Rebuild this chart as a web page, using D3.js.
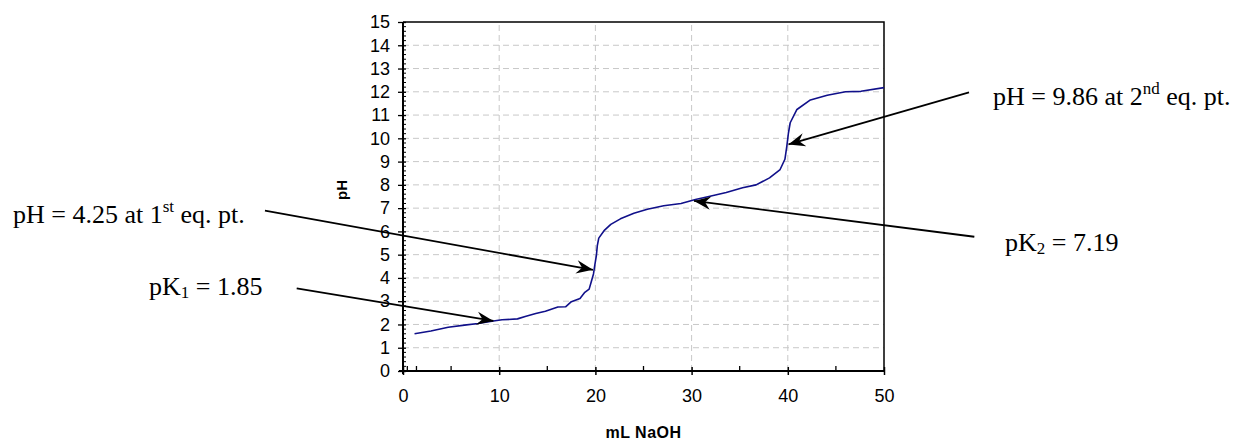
<!DOCTYPE html>
<html><head><meta charset="utf-8">
<script src="https://cdn.jsdelivr.net/npm/d3@7/dist/d3.min.js"></script>
<style>html,body{margin:0;padding:0;background:#fff;}svg{display:block;}</style>
</head><body>
<script>
// ---- data ----
const mlNaOH = [1.2, 2.9, 4.7, 6.4, 7.8, 9.4, 10.3, 11.9, 12.7, 13.8, 14.8, 16.1, 16.9, 17.5, 18.4, 18.9, 19.35, 19.6, 19.8, 19.93, 20.1, 20.2, 20.35, 20.9, 21.6, 22.6, 24.0, 25.4, 27.1, 28.9, 30.4, 31.8, 33.6, 35.3, 36.7, 38.1, 39.2, 39.7, 39.9, 40.07, 40.25, 40.95, 42.35, 44.1, 46.0, 47.6, 50.0];
const pHValues = [1.6, 1.72, 1.88, 1.97, 2.04, 2.15, 2.2, 2.24, 2.34, 2.47, 2.57, 2.75, 2.76, 2.98, 3.12, 3.38, 3.52, 3.88, 4.17, 4.53, 4.96, 5.39, 5.71, 6.03, 6.3, 6.54, 6.78, 6.95, 7.1, 7.2, 7.37, 7.5, 7.67, 7.88, 8.0, 8.3, 8.66, 9.1, 9.67, 10.24, 10.67, 11.24, 11.65, 11.85, 12.0, 12.02, 12.18];
const xTicks = [0, 10, 20, 30, 40, 50];
const xMinorTicks = [5, 15, 25, 35, 45];
const xStrayTicks = [0.45, 1.4];
const yTicks = d3.range(0, 16);
const xGrid = [10, 20, 30, 40];
const yGrid = d3.range(1, 15);
const xTitle = "mL NaOH";
const yTitle = "pH";
// annotation text pieces: [text, kind]
const annTexts = [
  [["pH = 4.25 at 1", ""], ["st", "sup"], [" eq. pt.", ""]],
  [["pK", ""], ["1", "sub"], [" = 1.85", ""]],
  [["pH = 9.86 at 2", ""], ["nd", "sup"], [" eq. pt.", ""]],
  [["pK", ""], ["2", "sub"], [" = 7.19", ""]]
];
// arrow tail and tip in data units (mL, pH)
const annFrom = [[-14.35, 6.89], [-11.05, 3.55], [58.84, 11.98], [59.39, 5.77]];
const annTo = [[19.75, 4.35], [9.4, 2.15], [40.07, 9.74], [30.25, 7.31]];

// ---- layout ----
const W = 1240, H = 441;
const annPos = [[13, 223], [149, 295], [993, 105], [1005, 251]];
const svg = d3.select("body").append("svg").attr("width", W).attr("height", H);
const x = d3.scaleLinear().domain([0, 50]).range([403, 884]);
const y = d3.scaleLinear().domain([0, 15]).range([371, 22]);

// gridlines
svg.append("g").selectAll("line").data(yGrid).join("line")
  .attr("x1", x(0)).attr("x2", x(50)).attr("y1", d => y(d)).attr("y2", d => y(d))
  .attr("stroke", "#c8c8c8").attr("stroke-width", 1).attr("stroke-dasharray", "6,4");
svg.append("g").selectAll("line").data(xGrid).join("line")
  .attr("y1", y(0)).attr("y2", y(15)).attr("x1", d => x(d)).attr("x2", d => x(d))
  .attr("stroke", "#c8c8c8").attr("stroke-width", 1).attr("stroke-dasharray", "6,4");

// frame top/right
svg.append("path").attr("d", `M${x(0)},${y(15)}H${x(50)}V${y(0)}`)
  .attr("fill", "none").attr("stroke", "#000").attr("stroke-width", 1.5);

// axes
const xAxis = d3.axisBottom(x).tickValues(xTicks).tickSize(4).tickPadding(14).tickFormat(d3.format("d"));
const gx = svg.append("g").attr("transform", `translate(0,${y(0)})`).call(xAxis);
gx.select(".domain").attr("stroke-width", 2).attr("d", `M${x(0)-4},0H${x(50)}`);
gx.selectAll(".tick line").attr("y1", -4).attr("y2", 4).attr("stroke-width", 1.5);
gx.selectAll("text").attr("font-family", "Liberation Sans, Arial, sans-serif").attr("font-size", 18).attr("fill", "#000");
svg.append("g").selectAll("line").data(xMinorTicks.concat(xStrayTicks)).join("line")
  .attr("x1", d => x(d)).attr("x2", d => x(d)).attr("y1", y(0)).attr("y2", y(0) - 5)
  .attr("stroke", "#000").attr("stroke-width", 1.3);

const yAxis = d3.axisLeft(y).tickValues(yTicks).tickSize(5).tickPadding(8);
const gy = svg.append("g").attr("transform", `translate(${x(0)},0)`).call(yAxis);
gy.select(".domain").attr("stroke-width", 2).attr("d", `M0,${y(15)}V${y(0)+3}`);
gy.selectAll(".tick line").attr("x1", -5).attr("x2", 3).attr("stroke-width", 1.3);
gy.selectAll("text").attr("font-family", "Liberation Sans, Arial, sans-serif").attr("font-size", 18).attr("fill", "#000");
const yMinor = d3.range(0, 75).map(i => i * 0.2).filter(v => Math.abs(v - Math.round(v)) > 0.01);
svg.append("g").selectAll("line").data(yMinor).join("line")
  .attr("x1", x(0)).attr("x2", x(0) + 3).attr("y1", d => y(d)).attr("y2", d => y(d))
  .attr("stroke", "#000").attr("stroke-width", 1);

// titles
svg.append("text").attr("x", (x(0) + x(50)) / 2).attr("y", 438).attr("text-anchor", "middle")
  .attr("font-family", "Liberation Sans, Arial, sans-serif").attr("font-weight", "bold").attr("font-size", 16)
  .attr("letter-spacing", 0.5).text(xTitle);
svg.append("text").attr("transform", `translate(347,190) rotate(-90)`).attr("text-anchor", "middle")
  .attr("font-family", "Liberation Sans, Arial, sans-serif").attr("font-weight", "bold").attr("font-size", 15)
  .text(yTitle);

// curve
const pts = mlNaOH.map((v, i) => [v, pHValues[i]]);
svg.append("path").datum(pts)
  .attr("d", d3.line().x(d => x(d[0])).y(d => y(d[1])))
  .attr("fill", "none").attr("stroke", "#10108a").attr("stroke-width", 1.6).attr("stroke-linejoin", "round");

// arrows
svg.append("defs").append("marker").attr("id", "ah").attr("markerUnits", "userSpaceOnUse")
  .attr("markerWidth", 20).attr("markerHeight", 20).attr("refX", 0).attr("refY", 0)
  .attr("viewBox", "-16 -8 18 16").attr("orient", "auto")
  .append("path").attr("d", "M0,0 L-15,-6 L-10,0 L-15,6 Z").attr("fill", "#000");
svg.append("g").selectAll("line").data(annFrom).join("line")
  .attr("x1", d => x(d[0])).attr("y1", d => y(d[1]))
  .attr("x2", (d, i) => x(annTo[i][0])).attr("y2", (d, i) => y(annTo[i][1]))
  .attr("stroke", "#000").attr("stroke-width", 1.8).attr("marker-end", "url(#ah)");

// annotation texts
annTexts.forEach((parts, i) => {
  const t = svg.append("text").attr("x", annPos[i][0]).attr("y", annPos[i][1])
    .attr("font-family", "Liberation Serif, Times New Roman, serif").attr("font-size", 26).attr("fill", "#000");
  let shift = 0;
  parts.forEach(([s, kind]) => {
    const target = kind === "sup" ? -11 : kind === "sub" ? 3 : 0;
    t.append("tspan").attr("dy", target - shift).attr("font-size", kind ? 17 : 26).text(s);
    shift = target;
  });
});
</script>
</body></html>
